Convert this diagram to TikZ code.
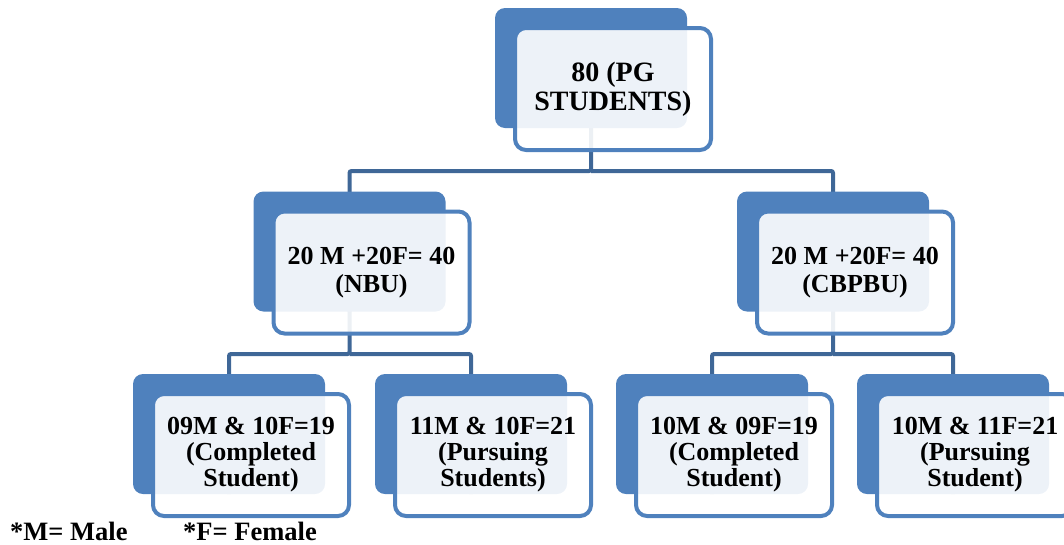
\documentclass[tikz,border=0pt]{standalone}
\usepackage{fontspec}
\setmainfont{Liberation Serif}
\definecolor{accentblue}{HTML}{4F81BD}
\definecolor{connblue}{HTML}{3F6797}
\begin{document}
\begin{tikzpicture}[x=1pt,y=-1pt,
  backbox/.style={rectangle, rounded corners=10pt, fill=accentblue, draw=none,
    minimum width=192pt, minimum height=120pt, inner sep=0pt},
  frontbox/.style={rectangle, rounded corners=11pt, draw=accentblue, line width=4pt,
    fill=white, fill opacity=0.9, text opacity=1,
    minimum width=196pt, minimum height=122pt, inner sep=0pt, align=center,
    font=\bfseries},
  conn/.style={draw=connblue, line width=4pt, rounded corners=2pt},
  note/.style={anchor=base west, inner sep=0pt, font=\fontsize{26.5}{26.5}\selectfont\bfseries}
]
\useasboundingbox (0,0) rectangle (1064,544);
\clip (0,0) rectangle (1064,544);

% centres of the back boxes
\coordinate (cT) at (591,68);
\coordinate (cA) at (349.5,251.5);
\coordinate (cB) at (833,251.5);
\coordinate (c1) at (229,434);
\coordinate (c2) at (471,434);
\coordinate (c3) at (712,434);
\coordinate (c4) at (953,434);

% connectors (behind everything)
\coordinate (barT) at (591,171);
\coordinate (barA) at (349.5,354);
\coordinate (barB) at (833,354);
\draw[conn] (cT) -- (barT) -| ([yshift=-60pt]cA);
\draw[conn] (barT) -| ([yshift=-60pt]cB);
\draw[conn] (cA) -- (barA) -| ([yshift=-60pt]c1);
\draw[conn] (barA) -| ([yshift=-60pt]c2);
\draw[conn] (cB) -- (barB) -| ([yshift=-60pt]c3);
\draw[conn] (barB) -| ([yshift=-60pt]c4);

% back boxes
\node[backbox] (bT) at (cT) {};
\node[backbox] (bA) at (cA) {};
\node[backbox] (bB) at (cB) {};
\node[backbox] (b1) at (c1) {};
\node[backbox] (b2) at (c2) {};
\node[backbox] (b3) at (c3) {};
\node[backbox] (b4) at (c4) {};

% front boxes
\node[frontbox, font=\fontsize{28}{29}\selectfont\bfseries] (fT) at (613,89) {80 (PG\\STUDENTS)};
\node[frontbox, font=\fontsize{26}{28}\selectfont\bfseries] (fA) at (371.5,272.5) {20 M +20F= 40\\(NBU)};
\node[frontbox, font=\fontsize{26}{28}\selectfont\bfseries] (fB) at (855,272.5) {20 M +20F= 40\\(CBPBU)};
\node[frontbox, font=\fontsize{26}{26}\selectfont\bfseries] (f1) at (251,455) {09M \& 10F=19\\(Completed\\Student)};
\node[frontbox, font=\fontsize{26}{26}\selectfont\bfseries] (f2) at (493,455) {11M \& 10F=21\\(Pursuing\\Students)};
\node[frontbox, font=\fontsize{26}{26}\selectfont\bfseries] (f3) at (734,455) {10M \& 09F=19\\(Completed\\Student)};
\node[frontbox, font=\fontsize{26}{26}\selectfont\bfseries] (f4) at (975,455) {10M \& 11F=21\\(Pursuing\\Student)};

% footnote
\node[note] (nM) at (10,540) {*M= Male};
\node[note] (nF) at (183,540) {*F= Female};
\end{tikzpicture}
\end{document}
